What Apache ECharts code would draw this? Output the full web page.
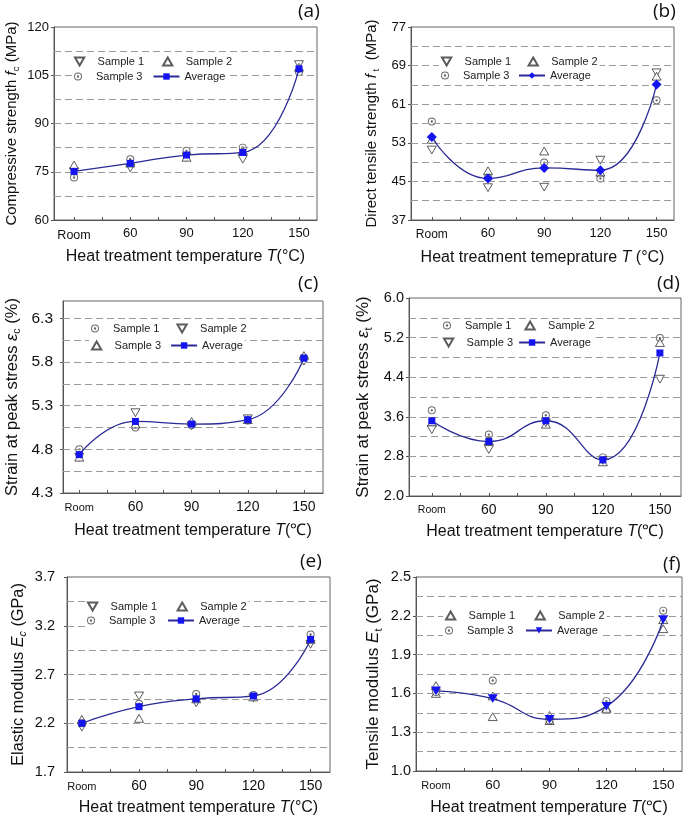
<!DOCTYPE html>
<html><head><meta charset="utf-8">
<script src="https://cdn.jsdelivr.net/npm/echarts@6/dist/echarts.min.js"></script>
<style>html,body{margin:0;padding:0;background:#fff}#c{width:685px;height:817px}</style>
</head><body><div id="c"></div>
<script>
// ---------- data ----------
const categories = ['Room', '60', '90', '120', '150'];
const xTickPos = [0, 0.5, 1, 1.5, 2, 2.5, 3, 3.5, 4];
const xLabelPos = [0, 1, 2, 3, 4];

// (a) compressive strength (MPa)
const a_s1 = [75.0, 76.2, 79.6, 78.9, 108.3];
const a_s2 = [77.1, 77.7, 79.5, 81.6, 107.5];
const a_s3 = [73.2, 78.9, 81.5, 82.5, 106.0];
const a_avg = [75.1, 77.6, 80.2, 81.0, 107.0];
const a_ticks = [60, 75, 90, 105, 120];
const a_grid = [67.5, 75, 82.5, 90, 97.5, 105, 112.5];

// (b) direct tensile strength (MPa)
const b_s1 = [51.5, 43.7, 43.8, 49.4, 67.5];
const b_s2 = [53.7, 47.2, 51.3, 46.9, 66.8];
const b_s3 = [57.4, 45.8, 48.9, 45.6, 61.8];
const b_avg = [54.2, 45.6, 47.8, 47.3, 65.1];
const b_ticks = [37, 45, 53, 61, 69, 77];
const b_grid = [41, 45, 49, 53, 57, 61, 65, 69, 73];

// (c) strain at peak stress, compression (%)
const c_s1 = [4.80, 5.05, 5.08, 5.13, 5.85];
const c_s2 = [4.71, 5.22, 5.07, 5.15, 5.81];
const c_s3 = [4.71, 5.09, 5.12, 5.14, 5.875];
const c_avg = [4.74, 5.12, 5.09, 5.14, 5.845];
const c_ticks = [4.3, 4.8, 5.3, 5.8, 6.3];
const c_grid = [4.55, 4.8, 5.05, 5.3, 5.55, 5.8, 6.05, 6.3];

// (d) strain at peak stress, tension (%)
const d_s1 = [3.73, 3.24, 3.63, 2.78, 5.19];
const d_s2 = [3.49, 3.12, 3.45, 2.69, 5.10];
const d_s3 = [3.34, 2.94, 3.48, 2.72, 4.36];
const d_avg = [3.52, 3.10, 3.52, 2.73, 4.89];
const d_ticks = [2.0, 2.8, 3.6, 4.4, 5.2, 6.0];
const d_grid = [2.4, 2.8, 3.2, 3.6, 4.0, 4.4, 4.8, 5.2, 5.6];

// (e) elastic modulus (GPa)
const e_s1 = [2.16, 2.48, 2.41, 2.46, 3.01];
const e_s2 = [2.24, 2.25, 2.45, 2.47, 3.06];
const e_s3 = [2.20, 2.40, 2.50, 2.49, 3.11];
const e_avg = [2.20, 2.37, 2.45, 2.48, 3.06];
const e_ticks = [1.7, 2.2, 2.7, 3.2, 3.7];
const e_grid = [1.95, 2.2, 2.45, 2.7, 2.95, 3.2, 3.45];

// (f) tensile modulus (GPa)
const f_s1 = [1.66, 1.58, 1.43, 1.49, 2.10];
const f_s2 = [1.60, 1.42, 1.39, 1.48, 2.17];
const f_s3 = [1.61, 1.70, 1.39, 1.54, 2.24];
const f_avg = [1.62, 1.56, 1.40, 1.50, 2.17];
const f_ticks = [1.0, 1.3, 1.6, 1.9, 2.2, 2.5];
const f_grid = [1.15, 1.3, 1.45, 1.6, 1.75, 1.9, 2.05, 2.2, 2.35];

const legendNames = ['Sample 1', 'Sample 2', 'Sample 3', 'Average'];

// ---------- styling / layout ----------
const FONT = '"Liberation Sans", Arial, sans-serif';
const AXIS_COLOR = '#555';
const AVG_LINE = '#2a2a96';
const AVG_MARK = '#1414f0';
const CIRC_DOT = 'path://M0,-10A10,10 0 1,1 0,10A10,10 0 1,1 0,-10ZM0,-7.6A7.6,7.6 0 1,0 0,7.6A7.6,7.6 0 1,0 0,-7.6ZM0,-3A3,3 0 1,1 0,3A3,3 0 1,1 0,-3Z';
const TRI_DOWN = 'path://M0,0L10,0L5,8.66Z';
const TRI_UP = 'path://M5,0L10,8.66L0,8.66Z';

const symDefs = {
  down: { symbol: TRI_DOWN, hollow: true },
  up: { symbol: TRI_UP, hollow: true },
  circ: { symbol: CIRC_DOT, hollow: false }
};

const panels = [
  { id: 'a', s: [a_s1, a_s2, a_s3], avg: a_avg, sym: ['down', 'up', 'circ'], avgSym: ['rect', 7],
    ticks: a_ticks, grid: a_grid, ymin: 60, ymax: 120, dec: 0,
    box: { left: 54, top: 27, width: 263, height: 193 }, xmin: -0.356, xmax: 4.32,
    yName: '{t|Compressive strength }{i|f}{s|c}{t| (MPa)}', yNameSize: 15, yNameGap: 33,
    xName: '{t|Heat treatment temperature }{i|T}{t|(°C)}', xNameGap: 29,
    yLabSize: 13, yLabMargin: 5, xLabSize: 13, roomSize: 12.5,
    leg: { left: 72, top1: 55, top2: 70, gap: 18 }, letter: { x: 298, y: 13 } },
  { id: 'b', s: [b_s1, b_s2, b_s3], avg: b_avg, sym: ['down', 'up', 'circ'], avgSym: ['diamond', 10],
    ticks: b_ticks, grid: b_grid, ymin: 37, ymax: 77, dec: 0,
    box: { left: 411, top: 27, width: 263, height: 193 }, xmin: -0.37, xmax: 4.31,
    yName: '{t|Direct tensile strength }{i|f}{s| t}{t|  (MPa)}', yNameSize: 15, yNameGap: 30,
    xName: '{t|Heat treatment temeprature }{i|T}{t| (°C)}', xNameGap: 30,
    yLabSize: 13, yLabMargin: 5, xLabSize: 13, roomSize: 12,
    leg: { left: 439, top1: 55, top2: 69, gap: 16.5 }, letter: { x: 653, y: 13 } },
  { id: 'c', s: [c_s1, c_s2, c_s3], avg: c_avg, sym: ['circ', 'down', 'up'], avgSym: ['rect', 7],
    ticks: c_ticks, grid: c_grid, ymin: 4.3, ymax: 6.5, dec: 1,
    box: { left: 63, top: 301, width: 260, height: 192 }, xmin: -0.29, xmax: 4.34,
    yName: '{t|Strain at peak stress }{i|ε}{s|c}{t| (%)}', yNameSize: 16.5, yNameGap: 40,
    xName: '{t|Heat treatment temperature }{i|T}{t|(℃)}', xNameGap: 30,
    yLabSize: 15.5, yLabMargin: 10, xLabSize: 14, roomSize: 11,
    leg: { left: 89, top1: 322, top2: 339, gap: 17 }, letter: { x: 298, y: 285 } },
  { id: 'd', s: [d_s1, d_s2, d_s3], avg: d_avg, sym: ['circ', 'up', 'down'], avgSym: ['rect', 7],
    ticks: d_ticks, grid: d_grid, ymin: 2.0, ymax: 6.0, dec: 1,
    box: { left: 409, top: 298, width: 272, height: 198 }, xmin: -0.40, xmax: 4.37,
    yName: '{t|Strain at peak stress }{i|ε}{s|t}{t| (%)}', yNameSize: 17, yNameGap: 35,
    xName: '{t|Heat treatment temperature }{i|T}{t|(℃)}', xNameGap: 28,
    yLabSize: 14.5, yLabMargin: 5, xLabSize: 14, roomSize: 10.5,
    leg: { left: 441, top1: 319, top2: 336, gap: 13 }, letter: { x: 657, y: 285 } },
  { id: 'e', s: [e_s1, e_s2, e_s3], avg: e_avg, sym: ['down', 'up', 'circ'], avgSym: ['rect', 7],
    ticks: e_ticks, grid: e_grid, ymin: 1.7, ymax: 3.7, dec: 1,
    box: { left: 67, top: 577, width: 263, height: 196 }, xmin: -0.26, xmax: 4.34,
    yName: '{t|Elastic modulus }{i|E}{si|c}{t| (GPa)}', yNameSize: 16.3, yNameGap: 38,
    xName: '{t|Heat treatment temperature }{i|T}{t|(°C)}', xNameGap: 28,
    yLabSize: 14.5, yLabMargin: 12, xLabSize: 14, roomSize: 11,
    leg: { left: 85, top1: 600, top2: 614, gap: 19.5 }, letter: { x: 300, y: 563 } },
  { id: 'f', s: [f_s1, f_s2, f_s3], avg: f_avg, sym: ['up', 'up', 'circ'], avgSym: [TRI_DOWN, 10],
    ticks: f_ticks, grid: f_grid, ymin: 1.0, ymax: 2.5, dec: 1,
    box: { left: 416, top: 577, width: 266, height: 195 }, xmin: -0.35, xmax: 4.33,
    yName: '{t|Tensile modulus }{i|E}{s|t}{t| (GPa)}', yNameSize: 17, yNameGap: 32,
    xName: '{t|Heat treatment temperature }{i|T}{t|(℃)}', xNameGap: 29,
    yLabSize: 14.5, yLabMargin: 5, xLabSize: 13.5, roomSize: 11,
    leg: { left: 443, top1: 609, top2: 624, gap: 19.5 }, letter: { x: 663, y: 566 } }
];

// ---------- build option ----------
const grids = [], xAxes = [], yAxes = [], series = [], legends = [], graphics = [];
const labelMap = {};

panels.forEach((p, gi) => {
  grids.push(Object.assign({ show: true, borderColor: '#666', borderWidth: 1, backgroundColor: 'transparent' }, p.box));
  const fs = p.yNameSize;
  xAxes.push({
    type: 'value', gridIndex: gi, min: p.xmin, max: p.xmax,
    axisLine: { show: true, onZero: false, lineStyle: { color: AXIS_COLOR, width: 1 } },
    axisTick: { show: true, inside: true, length: 3, customValues: xTickPos, lineStyle: { color: AXIS_COLOR } },
    axisLabel: {
      customValues: xLabelPos, margin: 7, color: '#111', fontFamily: FONT, fontSize: p.xLabSize,
      formatter: v => { const c = categories[Math.round(v)]; return c === 'Room' ? '{r|Room}' : c; },
      rich: { r: { fontSize: p.roomSize, fontFamily: FONT, color: '#111', padding: [2, 0, 0, 0] } }
    },
    splitLine: { show: false },
    name: p.xName, nameLocation: 'middle', nameGap: p.xNameGap,
    nameTextStyle: {
      color: '#111', fontFamily: FONT, fontSize: 16,
      rich: { t: { fontSize: 16, fontFamily: FONT, color: '#111' }, i: { fontSize: 16, fontStyle: 'italic', fontFamily: FONT, color: '#111' } }
    }
  });
  yAxes.push({
    type: 'value', gridIndex: gi, min: p.ymin, max: p.ymax,
    axisLine: { show: true, onZero: false, lineStyle: { color: AXIS_COLOR, width: 1 } },
    axisTick: { show: true, inside: false, length: 3, customValues: p.ticks, lineStyle: { color: AXIS_COLOR } },
    axisLabel: { customValues: p.ticks, margin: p.yLabMargin, color: '#111', fontFamily: FONT, fontSize: p.yLabSize,
      formatter: v => Number(v).toFixed(p.dec) },
    splitLine: { show: false },
    name: p.yName, nameLocation: 'middle', nameGap: p.yNameGap, nameRotate: 90,
    nameTextStyle: {
      color: '#111', fontFamily: FONT, fontSize: fs,
      rich: {
        t: { fontSize: fs, fontFamily: FONT, color: '#111', lineHeight: fs + 4 },
        i: { fontSize: fs, fontStyle: 'italic', fontFamily: FONT, color: '#111', lineHeight: fs + 4 },
        s: { fontSize: fs * 0.65, fontFamily: FONT, color: '#111', verticalAlign: 'bottom', lineHeight: fs * 0.75 },
        si: { fontSize: fs * 0.65, fontStyle: 'italic', fontFamily: FONT, color: '#111', verticalAlign: 'bottom', lineHeight: fs * 0.75 }
      }
    }
  });

  const names = [p.id + '1', p.id + '2', p.id + '3', p.id + 'A'];
  names.forEach((n, k) => { labelMap[n] = legendNames[k]; });

  // average line with dashed reference grid lines
  series.push({
    name: names[3], type: 'line', xAxisIndex: gi, yAxisIndex: gi,
    data: p.avg.map((v, i) => [xLabelPos[i], v]),
    smooth: 0.5, symbol: p.avgSym[0], symbolSize: p.avgSym[1], symbolKeepAspect: true,
    itemStyle: { color: AVG_MARK },
    lineStyle: { color: AVG_LINE, width: 1.3 },
    z: 5,
    markLine: {
      silent: true, symbol: ['none', 'none'], label: { show: false }, animation: false,
      lineStyle: { type: [7, 4], color: '#9a9a9a', width: 1 },
      emphasis: { disabled: true },
      data: p.grid.map(v => ({ yAxis: v }))
    }
  });
  // samples
  p.s.forEach((arr, k) => {
    const d = symDefs[p.sym[k]];
    series.push({
      name: names[k], type: 'scatter', xAxisIndex: gi, yAxisIndex: gi,
      data: arr.map((v, i) => [xLabelPos[i], v]),
      symbol: d.symbol, symbolKeepAspect: true, symbolSize: d.hollow ? 9 : 8,
      itemStyle: d.hollow ? { color: '#fff', borderColor: '#333', borderWidth: 1 } : { color: '#444' },
      z: 4
    });
  });

  const legBase = {
    orient: 'horizontal', itemWidth: 26, itemHeight: 8, symbolKeepAspect: true,
    padding: [1, 2, 1, 2], backgroundColor: '#fff', selectedMode: false, z: 10,
    formatter: n => labelMap[n],
    textStyle: { fontFamily: FONT, fontSize: 11, color: '#222' }
  };
  legends.push(Object.assign({}, legBase, { left: p.leg.left, top: p.leg.top1, itemGap: p.leg.gap, data: [names[0], names[1]] }));
  legends.push(Object.assign({}, legBase, { left: p.leg.left, top: p.leg.top2, itemGap: p.leg.gap - 8, data: [names[2], names[3]] }));

  graphics.push({
    type: 'text', left: p.letter.x, top: p.letter.y - 11,
    style: { text: '(' + p.id + ')', font: '19px "Open Sans", sans-serif', fill: '#111' }
  });
});

const chart = echarts.init(document.getElementById('c'), null, { renderer: 'canvas' });
chart.setOption({
  animation: false,
  backgroundColor: '#fff',
  grid: grids, xAxis: xAxes, yAxis: yAxes, series: series, legend: legends, graphic: graphics
});
</script></body></html>
